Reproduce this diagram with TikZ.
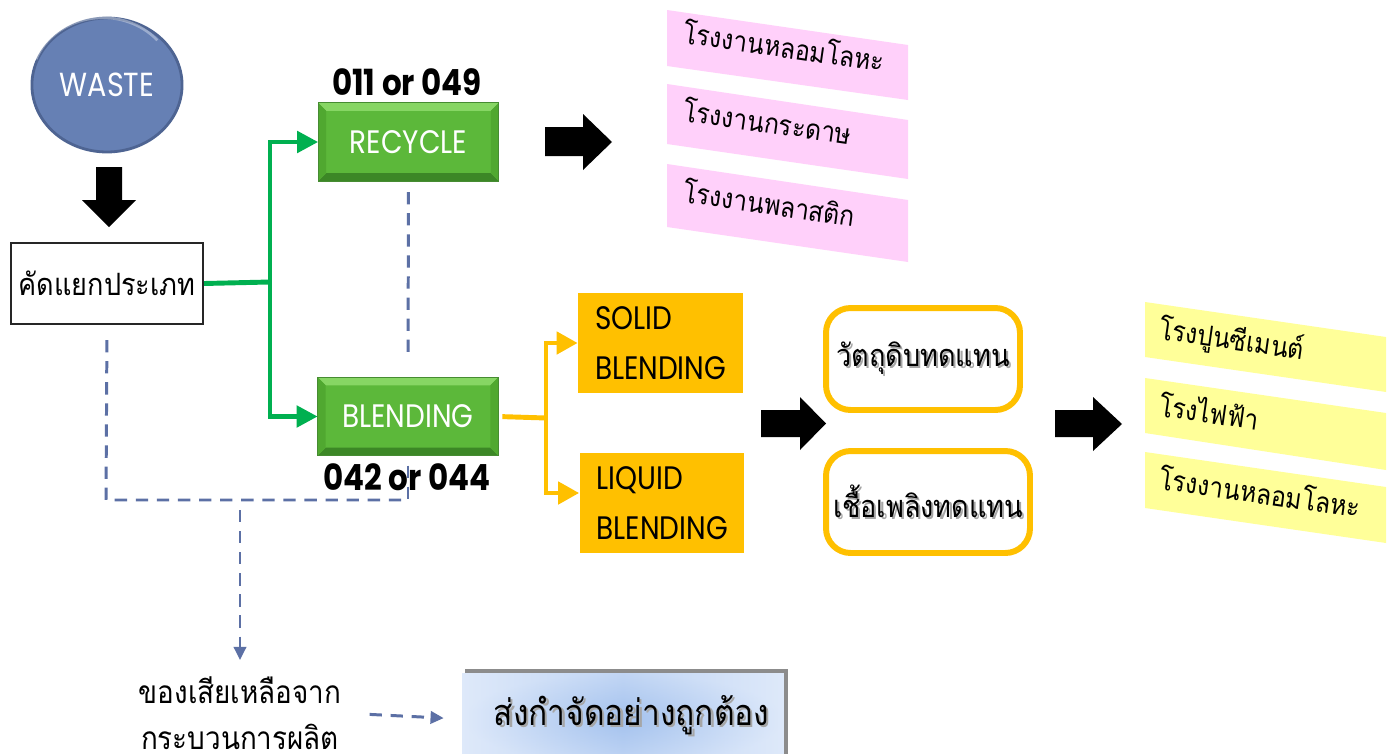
\documentclass[tikz,border=0pt]{standalone}
\usepackage{fontspec}
\newfontfamily\lat[FakeStretch=0.86]{Poppins}
\newfontfamily\thai[Script=Thai,FakeStretch=0.88]{Loma}
\usetikzlibrary{shapes.geometric,arrows.meta,calc}
\definecolor{wasteblue}{RGB}{102,128,180}
\definecolor{wasterim}{RGB}{78,100,146}
\definecolor{gfill}{RGB}{92,184,58}
\definecolor{glight}{RGB}{135,214,100}
\definecolor{gdark}{RGB}{60,135,38}
\definecolor{gside}{RGB}{80,168,48}
\definecolor{gborder}{RGB}{70,140,50}
\definecolor{gline}{RGB}{0,176,80}
\definecolor{oran}{RGB}{255,192,0}
\definecolor{dashblue}{RGB}{92,112,165}
\definecolor{pinkc}{RGB}{255,208,250}
\definecolor{yelc}{RGB}{255,255,153}
\definecolor{bcent}{RGB}{164,194,238}
\definecolor{bout}{RGB}{222,233,250}
\newcommand{\shtext}[1]{\makebox[0pt][l]{\hspace{1.3pt}\raisebox{-1.3pt}{\textcolor{black!35}{#1}}}#1}
\newcommand{\gbevel}[1]{%
  \fill[glight] (#1.north west) -- (#1.north east) -- ($(#1.north east)+(-8,8)$) -- ($(#1.north west)+(8,8)$) -- cycle;
  \fill[gdark] (#1.south west) -- (#1.south east) -- ($(#1.south east)+(-8,-8)$) -- ($(#1.south west)+(8,-8)$) -- cycle;
  \fill[gside] (#1.north west) -- ($(#1.north west)+(8,8)$) -- ($(#1.south west)+(8,-8)$) -- (#1.south west) -- cycle;
  \fill[gside] (#1.north east) -- ($(#1.north east)+(-8,8)$) -- ($(#1.south east)+(-8,-8)$) -- (#1.south east) -- cycle;
  \draw[gborder, line width=0.6pt] (#1.north west) rectangle (#1.south east);}
\begin{document}
\begin{tikzpicture}[x=0.02cm, y=-0.02cm,
  latf/.style={font=\lat\fontsize{18.5}{21}\selectfont},
  thf/.style={font=\thai\fontsize{16}{27}\selectfont},
  gbox/.style={rectangle, fill=gfill, minimum width=3.6cm, minimum height=1.55cm, inner sep=0pt, text=white, latf},
  glinestyle/.style={draw=gline, line width=2.8pt},
  gtip/.style={-{Triangle[length=12pt,width=12pt]}},
  olinestyle/.style={draw=oran, line width=2.8pt},
  otip/.style={-{Triangle[length=12pt,width=12.5pt]}},
  bdash/.style={draw=dashblue, line width=1.7pt, dash pattern=on 7pt off 5pt},
  btip/.style={-{Triangle[length=7.5pt,width=7pt]}},
  obox/.style={rectangle, fill=oran, minimum height=2cm, text width=2.62cm, inner xsep=0.34cm, inner ysep=0pt, align=left, font=\lat\fontsize{18.5}{28.5}\selectfont},
  rbox/.style={rectangle, draw=oran, line width=3.4pt, rounded corners=14pt, minimum height=2.04cm, inner sep=0pt, font=\thai\fontsize{17.5}{20}\selectfont},
  bandtext/.style={thf, inner sep=0pt, anchor=base west, rotate=-8.2}]
\useasboundingbox[fill=white] (0,0) rectangle (1394,754);

% WASTE
\node[ellipse, fill=wasteblue, draw=wasterim, line width=1.6pt, minimum width=3cm, minimum height=2.68cm, text=white, font=\lat\fontsize{19}{21}\selectfont] (waste) at (107,85) {WASTE};
\draw[white, opacity=0.35, line width=1.5pt] ([shift={(0,4)}]waste.north west) ++(0,0) (waste.160) arc[start angle=160, end angle=40, x radius=1.42cm, y radius=1.26cm];
\fill[black] (96,167) -- (122,167) -- (122,200) -- (136,200) -- (109,227) -- (82,200) -- (96,200) -- cycle;

% sort box
\node[draw=black!85, line width=1.2pt, fill=white, minimum width=3.84cm, minimum height=1.62cm, inner sep=0pt, font=\thai\fontsize{17.5}{20}\selectfont] (sort) at (107,283.5) {คัดแยกประเภท};

% green boxes
\node[gbox] (recycle) at (408.5,142) {RECYCLE};
\gbevel{recycle}
\node[gbox] (blend) at (408,416.5) {BLENDING};
\gbevel{blend}
\node[font=\lat\bfseries\fontsize{20.5}{22}\selectfont] (code1) at (407,82) {011 or 049};
\node[font=\lat\bfseries\fontsize{20.5}{22}\selectfont] (code2) at (407,477) {042 or 044};

% green connectors
\coordinate (gs) at (270,282);
\draw[glinestyle] (sort.east) -- (gs);
\draw[glinestyle, gtip] (gs) |- (recycle.west);
\draw[glinestyle, gtip] (gs) |- (blend.west);

% blue dashed connectors
\coordinate (d1) at (106,500);
\coordinate (d2) at (408,500);
\coordinate (d3) at (240,500);
\coordinate (d4) at (240,660);
\draw[bdash, shorten <=0.3cm] (sort.south) -- (d1) -- (d2);
\draw[bdash, shorten <=0.2cm] (blend.south) -- (d2);
\draw[bdash, shorten <=0.22cm, shorten >=0.4cm] (recycle.south) -- (blend.north);
\draw[bdash, btip, shorten <=0.2cm] (d3) -- (d4);
\node[font=\thai\fontsize{18}{26.5}\selectfont, align=center, inner sep=0pt] (resid) at (240,713) {ของเสียเหลือจาก\\กระบวนการผลิต};

% dispose box
\fill[black!45] (465,669) rectangle (788,770);
\node[left color=bout, right color=bout, middle color=bcent, minimum width=6.44cm, minimum height=1.84cm, inner sep=0pt] (dispose) at (623,719) {};
\node[inner color=bcent, outer color=bout, opacity=0.5, minimum width=6.44cm, minimum height=1.84cm, inner sep=0pt] (disposeglow) at (623,719) {};
\node[font=\thai\fontsize{20.5}{22}\selectfont] (disptext) at (631.5,716) {\shtext{ส่งกำจัดอย่างถูกต้อง}};
\draw[bdash, btip, shorten <=0.56cm, shorten >=0.36cm] (resid.east) -- (dispose.west);

% black block arrows
\fill[black] (545,127) -- (583,127) -- (583,114) -- (612,142) -- (583,170) -- (583,156) -- (545,156) -- cycle;
\fill[black] (761,410) -- (800,410) -- (800,397) -- (826,423.5) -- (800,450) -- (800,437) -- (761,437) -- cycle;
\fill[black] (1055,410) -- (1093,410) -- (1093,397) -- (1122,424) -- (1093,451) -- (1093,437) -- (1055,437) -- cycle;

% pink bands
\fill[pinkc] (667,10) -- (908,45) -- (908,100) -- (667,66) -- cycle;
\fill[pinkc] (667,84) -- (908,120) -- (908,179) -- (667,144) -- cycle;
\fill[pinkc] (667,164) -- (908,200) -- (908,262) -- (667,227) -- cycle;
\node[bandtext] (p1) at (682,43) {โรงงานหลอมโลหะ};
\node[bandtext] (p2) at (682,121) {โรงงานกระดาษ};
\node[bandtext] (p3) at (682,202) {โรงงานพลาสติก};

% orange boxes
\node[obox] (solid) at (660.5,343) {SOLID\\BLENDING};
\node[obox] (liquid) at (662,503) {LIQUID\\BLENDING};
\coordinate (os) at (546,418);
\draw[olinestyle, shorten <=0.08cm] (blend.east) -- (os);
\draw[olinestyle, otip] (os) |- (solid.west);
\draw[olinestyle, otip] (os) |- ([yshift=0.2cm]liquid.west);

% rounded boxes
\node[rbox, minimum width=3.88cm] (raw) at (923,359) {\shtext{วัตถุดิบทดแทน}};
\node[rbox, minimum width=4.08cm] (fuel) at (928,502) {\shtext{เชื้อเพลิงทดแทน}};

% yellow bands
\fill[yelc] (1145,302) -- (1386,337) -- (1386,392) -- (1145,357) -- cycle;
\fill[yelc] (1145,378) -- (1386,413) -- (1386,470) -- (1145,433) -- cycle;
\fill[yelc] (1145,452) -- (1386,487) -- (1386,543) -- (1145,508) -- cycle;
\node[bandtext] (y1) at (1158,339) {โรงปูนซีเมนต์};
\node[bandtext] (y2) at (1158,416) {โรงไฟฟ้า};
\node[bandtext] (y3) at (1158,489) {โรงงานหลอมโลหะ};
\end{tikzpicture}
\end{document}
